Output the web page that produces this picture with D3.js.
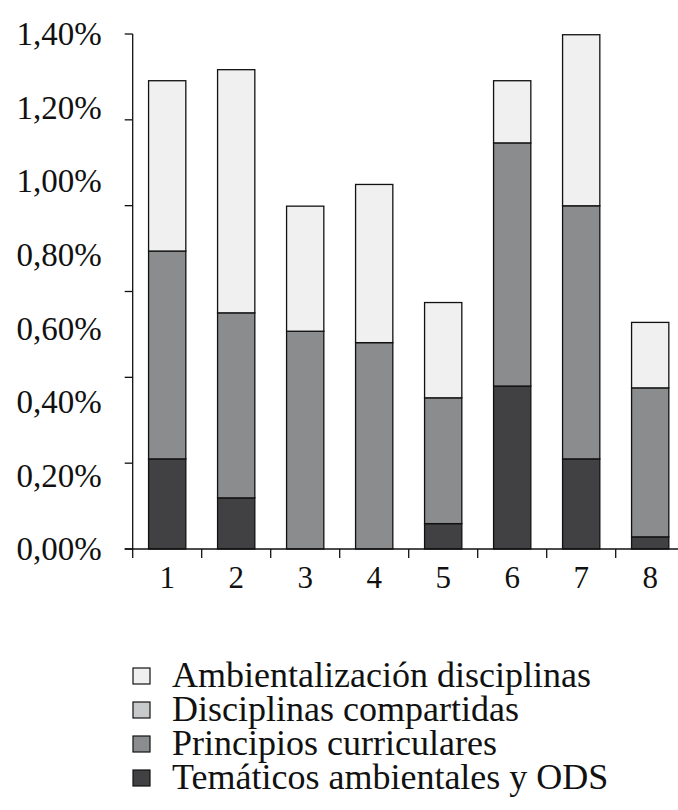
<!DOCTYPE html>
<html>
<head>
<meta charset="utf-8">
<script src="https://cdn.jsdelivr.net/npm/d3@7"></script>
<style>
  body { margin: 0; background: #fff; }
</style>
</head>
<body>
<div id="chart"></div>
<script>
var categories = ["1", "2", "3", "4", "5", "6", "7", "8"];

var seriesNames = ["Temáticos ambientales y ODS", "Principios curriculares",
                   "Disciplinas compartidas", "Ambientalización disciplinas"];

// values in % (stack order bottom -> top)
var tematicos = [0.245, 0.139, 0, 0, 0.069, 0.443, 0.245, 0.033];
var principios = [0.565, 0.503, 0.592, 0.561, 0.342, 0.661, 0.688, 0.405];
var compartidas = [0, 0, 0, 0, 0, 0, 0, 0];
var ambientalizacion = [0.463, 0.661, 0.340, 0.430, 0.259, 0.169, 0.465, 0.178];

var yTickLabels = ["0,00%", "0,20%", "0,40%", "0,60%", "0,80%", "1,00%", "1,20%", "1,40%"];
var yTickLabelValues = [0, 0.2, 0.4, 0.6, 0.8, 1.0, 1.2, 1.4];
var yTickMarkValues = [0, 1.4 / 6, 2.8 / 6, 1.4 / 2, 5.6 / 6, 7 / 6, 1.4];

var legendOrder = ["Ambientalización disciplinas", "Disciplinas compartidas",
                   "Principios curriculares", "Temáticos ambientales y ODS"];

var WIDTH = 678, HEIGHT = 810,
    FONT = "'Liberation Serif'",
    COLORS = {
      "Temáticos ambientales y ODS": "#414143",
      "Principios curriculares": "#8b8c8e",
      "Disciplinas compartidas": "#c8c9cb",
      "Ambientalización disciplinas": "#f0f0f0"
    };

var rows = categories.map(function(c, i) {
  return {
    cat: c,
    "Temáticos ambientales y ODS": tematicos[i],
    "Principios curriculares": principios[i],
    "Disciplinas compartidas": compartidas[i],
    "Ambientalización disciplinas": ambientalizacion[i]
  };
});

var svg = d3.select("#chart").append("svg")
  .attr("width", WIDTH)
  .attr("height", HEIGHT);

var x = d3.scaleBand()
  .domain(categories)
  .range([132.7, 684.7])
  .paddingInner(0.46)
  .paddingOuter(0.23);

var y = d3.scaleLinear()
  .domain([0, 1.4])
  .range([549, 34]);

var stack = d3.stack().keys(seriesNames)(rows);

// bars
svg.append("g").attr("class", "bars")
  .selectAll("g")
  .data(stack)
  .join("g")
    .attr("fill", function(d) { return COLORS[d.key]; })
  .selectAll("rect")
  .data(function(d) { return d.filter(function(s) { return s[1] - s[0] > 0; }); })
  .join("rect")
    .attr("x", function(d) { return x(d.data.cat); })
    .attr("width", x.bandwidth())
    .attr("y", function(d) { return y(d[1]); })
    .attr("height", function(d) { return y(d[0]) - y(d[1]); })
    .attr("stroke", "#111")
    .attr("stroke-width", 1.3);

// y axis: line + tick marks (marks and labels don't line up in the original)
var yAxisG = svg.append("g").attr("transform", "translate(" + x.range()[0] + ",0)");
yAxisG.append("line")
  .attr("y1", y(0)).attr("y2", y(1.4))
  .attr("stroke", "#111").attr("stroke-width", 1.3);
yAxisG.selectAll("line.tick")
  .data(yTickMarkValues)
  .join("line").attr("class", "tick")
    .attr("x1", -8).attr("x2", 0)
    .attr("y1", function(d) { return y(d); })
    .attr("y2", function(d) { return y(d); })
    .attr("stroke", "#111").attr("stroke-width", 1.3);
yAxisG.selectAll("text")
  .data(yTickLabelValues)
  .join("text")
    .attr("x", -31)
    .attr("y", function(d) { return y(d); })
    .attr("dy", "0.34em")
    .attr("text-anchor", "end")
    .style("font-family", FONT)
    .style("font-size", "33px")
    .attr("fill", "#111")
    .text(function(d, i) { return yTickLabels[i]; });

// x axis
var xAxisG = svg.append("g").attr("transform", "translate(0," + y(0) + ")");
xAxisG.append("line")
  .attr("x1", x.range()[0] - 8).attr("x2", WIDTH)
  .attr("stroke", "#111").attr("stroke-width", 1.3);
xAxisG.selectAll("line.tick")
  .data(d3.range(categories.length + 1))
  .join("line").attr("class", "tick")
    .attr("x1", function(i) { return x.range()[0] + i * x.step(); })
    .attr("x2", function(i) { return x.range()[0] + i * x.step(); })
    .attr("y1", 0).attr("y2", 9)
    .attr("stroke", "#111").attr("stroke-width", 1.3);
xAxisG.selectAll("text")
  .data(categories)
  .join("text")
    .attr("x", function(d) { return x(d) + x.bandwidth() / 2; })
    .attr("y", 39)
    .attr("text-anchor", "middle")
    .style("font-family", FONT)
    .style("font-size", "31px")
    .attr("fill", "#111")
    .text(function(d) { return d; });

// legend
var legend = svg.append("g").attr("class", "legend")
  .attr("transform", "translate(133,687)");
var item = legend.selectAll("g")
  .data(legendOrder)
  .join("g")
    .attr("transform", function(d, i) { return "translate(0," + i * 34 + ")"; });
item.append("rect")
  .attr("x", 0).attr("y", -19)
  .attr("width", 17).attr("height", 16)
  .attr("fill", function(d) { return COLORS[d]; })
  .attr("stroke", "#111").attr("stroke-width", 1.2);
item.append("text")
  .attr("x", 39).attr("y", 0)
  .style("font-family", FONT)
  .style("font-size", "36px")
  .attr("fill", "#111")
  .text(function(d) { return d; });
</script>
</body>
</html>
